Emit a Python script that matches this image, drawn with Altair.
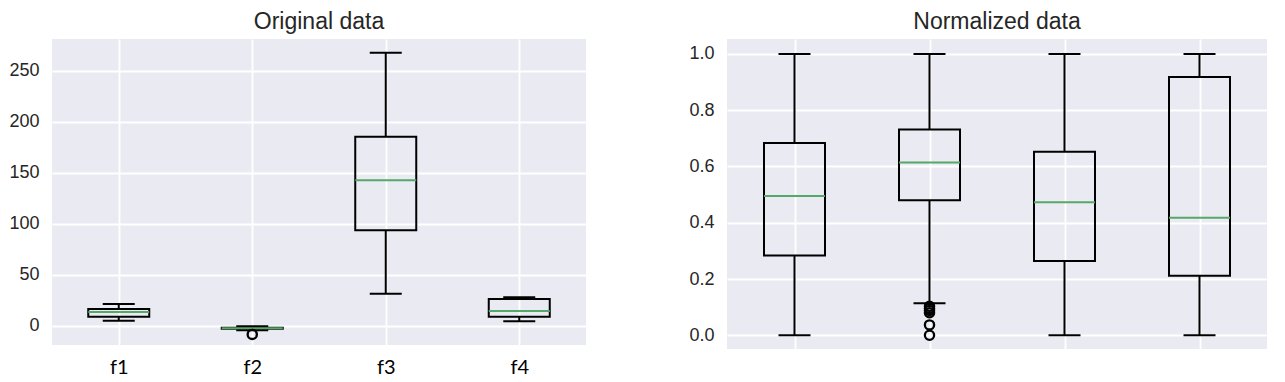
import altair as alt
import pandas as pd

cats = ["f1", "f2", "f3", "f4"]

orig_lower = [4.9, -4.5, 31.4, 4.3]
orig_q1 = [8.8, -3.0, 93.6, 8.8]
orig_median = [13.4, -2.6, 142.7, 14.4]
orig_q3 = [16.4, -2.0, 185.2, 26.2]
orig_upper = [21.3, -0.5, 267.6, 27.9]
orig_out_cat = ["f2"]
orig_out_val = [-8.5]
orig_ticks = [0, 50, 100, 150, 200, 250]

norm_lower = [0.0, 0.114, 0.0, 0.0]
norm_q1 = [0.284, 0.48, 0.264, 0.212]
norm_median = [0.495, 0.614, 0.473, 0.418]
norm_q3 = [0.683, 0.731, 0.652, 0.918]
norm_upper = [1.0, 1.0, 1.0, 1.0]
norm_out_cat = ["f2", "f2", "f2", "f2", "f2", "f2"]
norm_out_val = [0.103, 0.095, 0.088, 0.08, 0.037, 0.0]
norm_ticks = [0.0, 0.2, 0.4, 0.6, 0.8, 1.0]

BOX_W = 61
CAP_W = 32
GREEN = "#55a868"


def panel(lower, q1, med, q3, upper, out_c, out_v, title, domain, ticks,
          fmt, w, h, show_labels):
    df = pd.DataFrame({"cat": cats, "lower": lower, "q1": q1, "median": med,
                       "q3": q3, "upper": upper})
    odf = pd.DataFrame({"cat": out_c, "val": out_v})
    if show_labels:
        xaxis = alt.Axis(title=None, labelAngle=0, ticks=False, domain=False,
                         grid=True, gridColor="white", gridWidth=1.8,
                         labelFont="Lato", labelFontSize=20, labelColor="black",
                         labelPadding=12)
    else:
        xaxis = alt.Axis(title=None, labels=False, ticks=False, domain=False,
                         grid=True, gridColor="white", gridWidth=1.8)
    x = alt.X("cat:N", scale=alt.Scale(type="point", padding=0.5, domain=cats),
              axis=xaxis)
    yscale = alt.Scale(domain=domain, zero=False, nice=False)
    yaxis = alt.Axis(title=None, values=ticks, format=fmt, ticks=False,
                     domain=False, grid=True, gridColor="white", gridWidth=1.8,
                     labelFont="Liberation Sans", labelFontSize=18,
                     labelColor="#262626", labelPadding=13)
    base = alt.Chart(df)
    box = base.mark_bar(size=BOX_W, fillOpacity=0, stroke="black",
                        strokeWidth=2).encode(
        x=x, y=alt.Y("q1:Q", scale=yscale, axis=yaxis), y2="q3:Q")
    w_lo = base.mark_rule(color="black", strokeWidth=2).encode(
        x="cat:N", y="lower:Q", y2="q1:Q")
    w_hi = base.mark_rule(color="black", strokeWidth=2).encode(
        x="cat:N", y="q3:Q", y2="upper:Q")
    cap_lo = base.mark_tick(size=CAP_W, thickness=2, color="black",
                            opacity=1).encode(x="cat:N", y="lower:Q")
    cap_hi = base.mark_tick(size=CAP_W, thickness=2, color="black",
                            opacity=1).encode(x="cat:N", y="upper:Q")
    median = base.mark_tick(size=BOX_W, thickness=2, color=GREEN,
                            opacity=1).encode(x="cat:N", y="median:Q")
    outl = alt.Chart(odf).mark_point(shape="circle", filled=False, size=85,
                                     color="black", strokeWidth=2.3,
                                     opacity=1).encode(x="cat:N", y="val:Q")
    return alt.layer(box, w_lo, w_hi, cap_lo, cap_hi, median, outl).properties(
        width=w, height=h,
        title=alt.TitleParams(title, font="Liberation Sans", fontSize=23,
                              fontWeight="normal", color="#262626", offset=5))


left = panel(orig_lower, orig_q1, orig_median, orig_q3, orig_upper,
             orig_out_cat, orig_out_val, "Original data", [-18.9, 281.1],
             orig_ticks, "d", 534, 306, True)
right = panel(norm_lower, norm_q1, norm_median, norm_q3, norm_upper,
              norm_out_cat, norm_out_val, "Normalized data", [-0.0487, 1.053],
              norm_ticks, ".1f", 540, 310, False)

chart = alt.hconcat(left, right, spacing=102).properties(
    padding={"top": 3, "left": 0, "right": 0, "bottom": 0},
    background="white"
).configure_view(fill="#EAEAF2", stroke=None)

chart.save("out.html", embed_options={"renderer": "svg", "actions": False})
